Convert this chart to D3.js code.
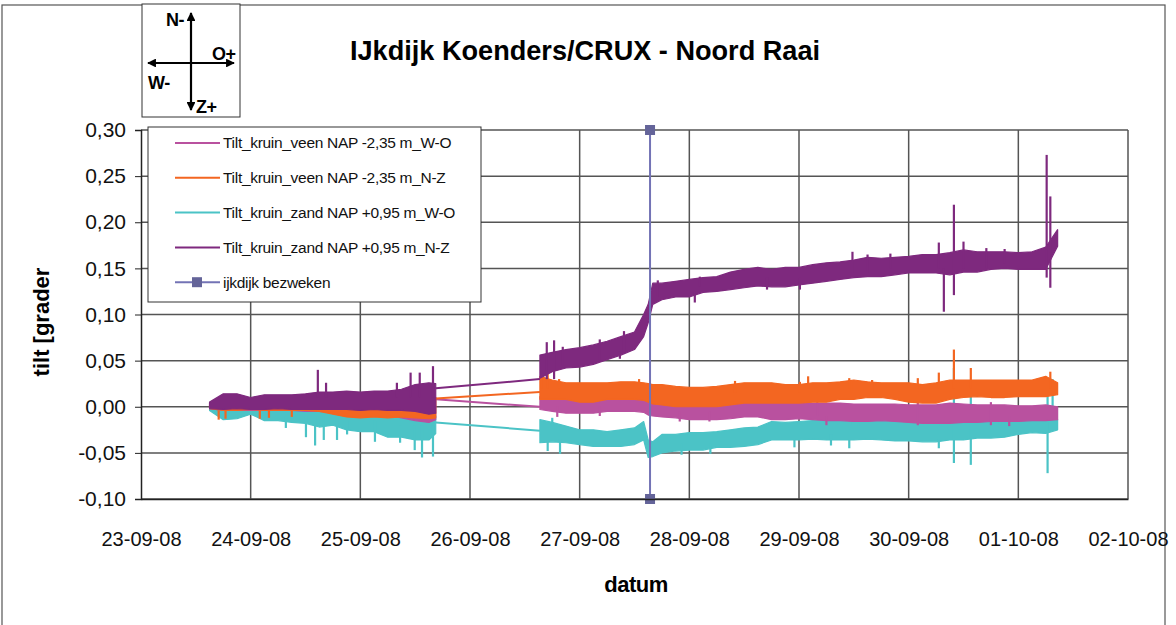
<!DOCTYPE html>
<html lang="nl">
<head>
    <meta charset="UTF-8">
    <title>IJkdijk Koenders/CRUX - Noord Raai</title>
    <script src="https://d3js.org/d3.v7.min.js"></script>
    <style>
        body { margin: 0; background: #fff; }
        svg { display: block; font-family: "Liberation Sans", Arial, sans-serif; }
    </style>
</head>
<body>
    <div id="chart"></div>
    <script>
        // hours since 23-09-08 00:00, two measuring periods with a gap in between
        const hours1 = [15, 18, 21, 24, 27, 30, 33, 36, 39, 42, 45, 48, 51, 54, 57, 60, 63, 64.5];
        const hours2 = [87.3, 90, 93, 96, 99, 102, 105, 108, 110, 111, 112, 114, 117, 120, 123, 126, 129, 132, 135,
            138, 141, 144, 147, 150, 153, 156, 159, 162, 165, 168, 171, 174, 177, 180, 183, 186, 189, 192, 195, 198, 200.6];

        const dayTicks = ['23-09-08', '24-09-08', '25-09-08', '26-09-08', '27-09-08', '28-09-08', '29-09-08', '30-09-08', '01-10-08', '02-10-08'];
        const yTicks = [-0.10, -0.05, 0.00, 0.05, 0.10, 0.15, 0.20, 0.25, 0.30];

        // Tilt_kruin_veen NAP -2,35 m_W-O (band: high / low), spikes: [hour, from, to]
        const veenWO_hi1 = [0.004, 0.008, 0.008, 0.006, 0.008, 0.008, 0.008, 0.008, 0.008, 0.008, 0.009, 0.009, 0.009, 0.009, 0.010, 0.010, 0.010, 0.010];
        const veenWO_lo1 = [-0.002, -0.004, -0.004, -0.004, -0.004, -0.004, -0.004, -0.005, -0.005, -0.006, -0.007, -0.008, -0.008, -0.009, -0.012, -0.015, -0.017, -0.014];
        const veenWO_hi2 = [0.011, 0.010, 0.010, 0.008, 0.010, 0.010, 0.010, 0.011, 0.010, 0.008, 0.006, 0.004, 0.002, 0.002, 0.002, 0.004, 0.004, 0.005, 0.005,
            0.005, 0.004, 0.005, 0.004, 0.004, 0.004, 0.003, 0.003, 0.003, 0.003, 0.002, 0.002, 0.002, 0.004, 0.003, 0.002, 0.002, 0.002, 0.001, 0.001, 0.002, 0.000];
        const veenWO_lo2 = [-0.003, -0.005, -0.007, -0.007, -0.007, -0.005, -0.005, -0.005, -0.006, -0.009, -0.010, -0.011, -0.012, -0.014, -0.014, -0.014, -0.013, -0.011, -0.011,
            -0.014, -0.014, -0.013, -0.014, -0.015, -0.015, -0.016, -0.016, -0.015, -0.016, -0.017, -0.018, -0.018, -0.018, -0.017, -0.017, -0.016, -0.016, -0.016, -0.015, -0.015, -0.014];
        const veenWO_gap = [0.008, 0.000];
        const veenWO_spikes = [[91.1, 0.000, -0.011], [100.4, 0.000, -0.010], [117.9, -0.005, -0.016], [124.4, -0.005, -0.016],
            [148, -0.010, 0.009], [150, -0.010, -0.020], [170, -0.020, 0.006], [186, -0.020, 0.005], [190, -0.010, -0.021]];

        // Tilt_kruin_veen NAP -2,35 m_N-Z
        const veenNZ_hi1 = [0.002, 0.006, 0.006, 0.004, 0.006, 0.006, 0.006, 0.006, 0.006, 0.006, 0.007, 0.008, 0.008, 0.008, 0.008, 0.009, 0.010, 0.010];
        const veenNZ_lo1 = [-0.002, -0.004, -0.004, -0.003, -0.004, -0.004, -0.004, -0.004, -0.005, -0.008, -0.011, -0.012, -0.011, -0.012, -0.011, -0.012, -0.013, -0.012];
        const veenNZ_hi2 = [0.033, 0.029, 0.026, 0.026, 0.026, 0.026, 0.027, 0.027, 0.026, 0.025, 0.024, 0.024, 0.022, 0.021, 0.021, 0.022, 0.024, 0.026, 0.026,
            0.026, 0.024, 0.024, 0.026, 0.026, 0.027, 0.029, 0.027, 0.026, 0.026, 0.026, 0.024, 0.026, 0.029, 0.029, 0.029, 0.029, 0.029, 0.029, 0.029, 0.033, 0.026];
        const veenNZ_lo2 = [0.008, 0.008, 0.008, 0.005, 0.005, 0.008, 0.008, 0.008, 0.007, 0.005, 0.003, 0.002, 0.000, 0.000, 0.000, 0.000, 0.002, 0.004, 0.004,
            0.004, 0.004, 0.004, 0.005, 0.005, 0.008, 0.008, 0.010, 0.010, 0.008, 0.005, 0.004, 0.004, 0.008, 0.010, 0.011, 0.010, 0.010, 0.011, 0.011, 0.011, 0.013];
        const veenNZ_gap = [0.009, 0.016];
        const veenNZ_spikes = [[17, -0.004, -0.014], [18.5, -0.004, -0.013], [26, -0.004, -0.013], [28, -0.004, -0.012], [33, -0.004, -0.011],
            [87.7, 0.020, 0.034], [89, 0.020, 0.036], [91.5, 0.020, 0.030], [109, 0.020, 0.030], [130, 0.015, 0.028], [144.2, 0.015, 0.027],
            [146, 0.020, 0.033], [155, 0.020, 0.031], [155.5, 0.015, 0.029], [160, 0.015, 0.029], [170, 0.020, 0.031],
            [174.6, 0.020, 0.037], [177.9, 0.020, 0.062], [181.6, 0.020, 0.042], [199, 0.020, 0.038]];

        // Tilt_kruin_zand NAP +0,95 m_W-O
        const zandWO_hi1 = [0.000, -0.001, -0.002, 0.001, -0.003, -0.003, -0.003, -0.003, -0.003, -0.004, -0.006, -0.008, -0.009, -0.010, -0.011, -0.011, -0.012, -0.010];
        const zandWO_lo1 = [-0.004, -0.014, -0.013, -0.008, -0.015, -0.015, -0.017, -0.018, -0.022, -0.020, -0.025, -0.027, -0.027, -0.033, -0.033, -0.036, -0.036, -0.029];
        const zandWO_hi2 = [-0.014, -0.017, -0.021, -0.025, -0.025, -0.027, -0.025, -0.023, -0.016, -0.036, -0.038, -0.030, -0.030, -0.028, -0.028, -0.027, -0.025, -0.023, -0.022,
            -0.016, -0.017, -0.016, -0.015, -0.015, -0.014, -0.015, -0.015, -0.014, -0.015, -0.016, -0.017, -0.016, -0.014, -0.014, -0.012, -0.012, -0.011, -0.011, -0.009, -0.009, -0.014];
        const zandWO_lo2 = [-0.039, -0.038, -0.039, -0.041, -0.043, -0.043, -0.043, -0.041, -0.036, -0.055, -0.054, -0.050, -0.048, -0.047, -0.047, -0.044, -0.044, -0.043, -0.041,
            -0.036, -0.036, -0.036, -0.035, -0.036, -0.036, -0.036, -0.035, -0.036, -0.037, -0.037, -0.038, -0.038, -0.036, -0.036, -0.034, -0.034, -0.033, -0.030, -0.028, -0.029, -0.025];
        const zandWO_gap = [-0.017, -0.026];
        const zandWO_spikes = [[31.7, -0.010, -0.023], [36.1, -0.010, -0.033], [38.1, -0.010, -0.042], [40.0, -0.010, -0.036], [42.9, -0.010, -0.036],
            [45.1, -0.015, -0.030], [51.2, -0.015, -0.038], [56.7, -0.020, -0.039], [59.9, -0.020, -0.047], [61.5, -0.020, -0.055], [63.9, -0.020, -0.054],
            [89, -0.035, -0.048], [90, -0.020, -0.012], [91.7, -0.035, -0.051], [118.3, -0.040, -0.052], [124.6, -0.040, -0.051],
            [143, -0.035, -0.044], [151, -0.030, -0.042], [155, -0.035, -0.045], [155.8, -0.020, -0.009], [157, -0.020, -0.011],
            [174.6, -0.035, -0.045], [174.9, -0.020, -0.006], [177.9, 0.042, -0.061], [181.6, 0.013, -0.063], [188, -0.020, -0.012],
            [198.4, 0.022, -0.072], [199.5, -0.010, 0.030]];

        // Tilt_kruin_zand NAP +0,95 m_N-Z
        const zandNZ_hi1 = [0.005, 0.014, 0.014, 0.010, 0.013, 0.013, 0.013, 0.014, 0.016, 0.016, 0.017, 0.016, 0.017, 0.017, 0.019, 0.024, 0.026, 0.025];
        const zandNZ_lo1 = [-0.002, -0.003, -0.002, -0.003, -0.003, -0.002, -0.003, -0.003, -0.003, -0.003, -0.003, -0.004, -0.003, -0.004, -0.004, -0.005, -0.008, -0.007];
        const zandNZ_hi2 = [0.056, 0.059, 0.062, 0.064, 0.067, 0.071, 0.076, 0.081, 0.100, 0.111, 0.134, 0.134, 0.136, 0.138, 0.140, 0.141, 0.146, 0.149, 0.151,
            0.149, 0.151, 0.151, 0.154, 0.156, 0.157, 0.159, 0.162, 0.161, 0.162, 0.163, 0.165, 0.165, 0.167, 0.170, 0.168, 0.168, 0.168, 0.167, 0.168, 0.173, 0.192];
        const zandNZ_lo2 = [0.031, 0.038, 0.042, 0.043, 0.046, 0.051, 0.056, 0.062, 0.076, 0.091, 0.111, 0.116, 0.119, 0.119, 0.124, 0.125, 0.127, 0.129, 0.131,
            0.130, 0.130, 0.132, 0.134, 0.136, 0.138, 0.140, 0.141, 0.141, 0.143, 0.145, 0.145, 0.145, 0.143, 0.146, 0.146, 0.149, 0.150, 0.149, 0.149, 0.149, 0.174];
        const zandNZ_gap = [0.020, 0.030];
        const zandNZ_spikes = [[38.7, 0.010, 0.040], [40.5, 0.010, 0.026], [56, 0.010, 0.026], [59, 0.010, 0.037], [61, 0.010, 0.037], [63.9, 0.010, 0.044],
            [88.8, 0.030, 0.070], [90.4, 0.030, 0.072], [92.3, 0.045, 0.065], [100.4, 0.050, 0.073], [104.8, 0.060, 0.052], [105.7, 0.060, 0.082],
            [113.1, 0.120, 0.137], [121.2, 0.125, 0.113], [122.3, 0.130, 0.141], [137, 0.140, 0.127], [144.2, 0.140, 0.127],
            [155.7, 0.145, 0.168], [159, 0.145, 0.165], [164, 0.150, 0.166], [174.6, 0.150, 0.178], [175.7, 0.103, 0.150],
            [177.9, 0.121, 0.219], [180, 0.150, 0.179], [185, 0.150, 0.172], [189, 0.155, 0.171], [198.2, 0.140, 0.273], [199.0, 0.129, 0.228]];

        // ijkdijk bezweken
        const failureHour = 111.4;
        const failureValues = [0.30, -0.10];

        const width = 1176;
        const height = 625;
        const t0 = new Date(2008, 8, 23);
        const toDate = h => new Date(t0.getTime() + h * 3600e3);
        const parseDay = d3.timeParse('%d-%m-%y');

        const svg = d3.select('#chart').append('svg')
            .attr('width', width)
            .attr('height', height);

        const x = d3.scaleTime()
            .domain([parseDay(dayTicks[0]), parseDay(dayTicks[dayTicks.length - 1])])
            .range([141, 1128]);
        const y = d3.scaleLinear().domain([-0.10, 0.30]).range([499, 130]);

        // outer frame
        svg.append('rect')
            .attr('x', 2).attr('y', 5).attr('width', 1163).attr('height', 640)
            .attr('fill', 'none').attr('stroke', '#555').attr('stroke-width', 1.2);

        // grid
        svg.append('g').selectAll('line')
            .data(yTicks)
            .enter().append('line')
            .attr('x1', 141).attr('x2', 1128)
            .attr('y1', d => y(d)).attr('y2', d => y(d))
            .attr('stroke', '#555').attr('stroke-width', 1.5);
        svg.append('g').selectAll('line')
            .data(dayTicks.slice(1))
            .enter().append('line')
            .attr('x1', d => x(parseDay(d))).attr('x2', d => x(parseDay(d)))
            .attr('y1', y(0.30)).attr('y2', y(-0.10))
            .attr('stroke', '#555').attr('stroke-width', 1.5);

        const series = [
            { name: 'Tilt_kruin_veen NAP -2,35 m_W-O', color: '#b9519f', hi1: veenWO_hi1, lo1: veenWO_lo1, hi2: veenWO_hi2, lo2: veenWO_lo2, gap: veenWO_gap, spikes: veenWO_spikes },
            { name: 'Tilt_kruin_veen NAP -2,35 m_N-Z', color: '#f36621', hi1: veenNZ_hi1, lo1: veenNZ_lo1, hi2: veenNZ_hi2, lo2: veenNZ_lo2, gap: veenNZ_gap, spikes: veenNZ_spikes },
            { name: 'Tilt_kruin_zand NAP +0,95 m_W-O', color: '#4bc3c6', hi1: zandWO_hi1, lo1: zandWO_lo1, hi2: zandWO_hi2, lo2: zandWO_lo2, gap: zandWO_gap, spikes: zandWO_spikes },
            { name: 'Tilt_kruin_zand NAP +0,95 m_N-Z', color: '#7e297e', hi1: zandNZ_hi1, lo1: zandNZ_lo1, hi2: zandNZ_hi2, lo2: zandNZ_lo2, gap: zandNZ_gap, spikes: zandNZ_spikes }
        ];

        const area = d3.area()
            .x(d => x(d.t))
            .y0(d => y(d.lo))
            .y1(d => y(d.hi));

        // cyan under pink, orange, purple on top
        const drawOrder = [2, 0, 1, 3];
        drawOrder.forEach(i => {
            const s = series[i];
            const g = svg.append('g');
            const seg1 = hours1.map((h, k) => ({ t: toDate(h), hi: s.hi1[k], lo: s.lo1[k] }));
            const seg2 = hours2.map((h, k) => ({ t: toDate(h), hi: s.hi2[k], lo: s.lo2[k] }));

            g.append('line')
                .attr('x1', x(toDate(hours1[hours1.length - 1]))).attr('y1', y(s.gap[0]))
                .attr('x2', x(toDate(hours2[0]))).attr('y2', y(s.gap[1]))
                .attr('stroke', s.color).attr('stroke-width', 2);

            [seg1, seg2].forEach(seg => {
                g.append('path')
                    .datum(seg)
                    .attr('d', area)
                    .attr('fill', s.color)
                    .attr('stroke', s.color)
                    .attr('stroke-width', 1.2)
                    .attr('stroke-linejoin', 'round');
            });

            g.selectAll('.spike')
                .data(s.spikes)
                .enter().append('line')
                .attr('x1', d => x(toDate(d[0]))).attr('x2', d => x(toDate(d[0])))
                .attr('y1', d => y(d[1])).attr('y2', d => y(d[2]))
                .attr('stroke', s.color).attr('stroke-width', 2.2);
        });

        // ijkdijk bezweken
        const fx = x(toDate(failureHour));
        svg.append('line')
            .attr('x1', fx).attr('x2', fx)
            .attr('y1', y(failureValues[0])).attr('y2', y(failureValues[1]))
            .attr('stroke', '#7373b5').attr('stroke-width', 2);
        svg.selectAll('.marker')
            .data(failureValues)
            .enter().append('rect')
            .attr('x', fx - 5).attr('y', d => y(d) - 5)
            .attr('width', 10).attr('height', 10)
            .attr('fill', '#646499');

        // axes
        const yAxis = svg.append('g')
            .attr('transform', 'translate(141,0)')
            .call(d3.axisLeft(y).tickValues(yTicks).tickSize(6).tickPadding(9)
                .tickFormat(d => d.toFixed(2).replace('.', ',')));
        yAxis.select('.domain').attr('stroke', '#222').attr('stroke-width', 1.5);
        yAxis.selectAll('.tick line').attr('stroke', '#222');
        yAxis.selectAll('text').attr('font-size', 21).attr('fill', '#111')
            .attr('font-family', '"Liberation Sans", Arial, sans-serif');

        const xAxis = svg.append('g')
            .attr('transform', `translate(0,${y(-0.10)})`)
            .call(d3.axisBottom(x).tickValues(dayTicks.map(parseDay)).tickSize(0).tickPadding(33)
                .tickFormat(d3.timeFormat('%d-%m-%y')));
        xAxis.select('.domain').attr('stroke', '#222').attr('stroke-width', 1.5);
        xAxis.selectAll('text').attr('font-size', 20).attr('fill', '#111')
            .attr('font-family', '"Liberation Sans", Arial, sans-serif');

        svg.append('text')
            .attr('x', 636).attr('y', 592)
            .attr('text-anchor', 'middle')
            .attr('font-size', 22).attr('font-weight', 'bold')
            .attr('letter-spacing', -0.5)
            .text('datum');

        svg.append('text')
            .attr('transform', 'translate(49,322) rotate(-90)')
            .attr('text-anchor', 'middle')
            .attr('font-size', 22).attr('font-weight', 'bold')
            .text('tilt [grader');

        svg.append('text')
            .attr('x', 350).attr('y', 60)
            .attr('font-size', 27).attr('font-weight', 'bold')
            .attr('textLength', 470).attr('lengthAdjust', 'spacingAndGlyphs')
            .text('IJkdijk Koenders/CRUX - Noord Raai');

        // legend
        const legend = svg.append('g');
        legend.append('rect')
            .attr('x', 148).attr('y', 127).attr('width', 333).attr('height', 175)
            .attr('fill', '#fff').attr('stroke', '#333').attr('stroke-width', 1);
        const legendItems = series.map(s => ({ name: s.name, color: s.color, marker: false }))
            .concat([{ name: 'ijkdijk bezweken', color: '#7373b5', marker: true }]);
        const rows = legend.selectAll('.row')
            .data(legendItems)
            .enter().append('g')
            .attr('transform', (d, i) => `translate(0,${143 + i * 34.8})`);
        rows.append('line')
            .attr('x1', 175).attr('x2', 220)
            .attr('stroke', d => d.color).attr('stroke-width', 2);
        rows.filter(d => d.marker).append('rect')
            .attr('x', 192).attr('y', -5).attr('width', 10).attr('height', 10)
            .attr('fill', '#646499');
        rows.append('text')
            .attr('x', 223).attr('dy', '0.35em')
            .attr('font-size', 15.5).attr('fill', '#111')
            .attr('letter-spacing', -0.3)
            .text(d => d.name);

        // compass
        const compass = svg.append('g');
        compass.append('rect')
            .attr('x', 142).attr('y', 4).attr('width', 98).attr('height', 113)
            .attr('fill', '#fff').attr('stroke', '#333').attr('stroke-width', 1);
        svg.append('defs').append('marker')
            .attr('id', 'arrow').attr('viewBox', '0 0 10 10')
            .attr('refX', 9).attr('refY', 5)
            .attr('markerWidth', 4).attr('markerHeight', 4)
            .attr('orient', 'auto-start-reverse')
            .append('path').attr('d', 'M0,0L10,5L0,10Z').attr('fill', '#000');
        compass.append('line')
            .attr('x1', 191).attr('y1', 13).attr('x2', 191).attr('y2', 110)
            .attr('stroke', '#000').attr('stroke-width', 2.2)
            .attr('marker-start', 'url(#arrow)').attr('marker-end', 'url(#arrow)');
        compass.append('line')
            .attr('x1', 148).attr('y1', 63).attr('x2', 234).attr('y2', 63)
            .attr('stroke', '#000').attr('stroke-width', 2.2)
            .attr('marker-start', 'url(#arrow)').attr('marker-end', 'url(#arrow)');
        const compassLabels = [['N-', 166, 26], ['O+', 212, 60], ['W-', 148, 89], ['Z+', 196, 113]];
        compass.selectAll('.lab')
            .data(compassLabels)
            .enter().append('text')
            .attr('x', d => d[1]).attr('y', d => d[2])
            .attr('font-size', 18).attr('font-weight', 'bold')
            .attr('letter-spacing', -0.5)
            .text(d => d[0]);
    </script>
</body>
</html>
